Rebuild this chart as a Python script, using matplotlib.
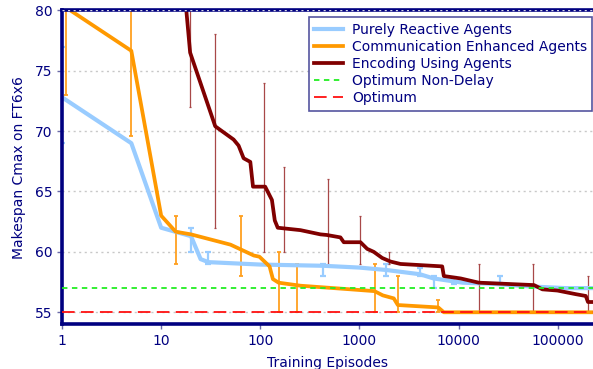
import matplotlib
matplotlib.use("Agg")
import matplotlib.pyplot as plt
import numpy as np

navy = "#000080"

# Purely Reactive Agents
reactive_x = [1, 5, 10, 20, 25, 30, 100, 430, 1000, 1870, 4070, 5600, 11000, 23000, 50000, 120000, 227000]
reactive_y = [72.8, 69.0, 62.0, 61.3, 59.4, 59.15, 58.95, 58.85, 58.7, 58.5, 58.15, 57.8, 57.45, 57.35, 57.15, 57.0, 57.0]
reactive_err_x = [1, 20, 30, 430, 1870, 4070, 5600, 9000, 26300]
reactive_err_lo = [69, 60, 59, 58, 58, 58, 57, 57.3, 57.4]
reactive_err_hi = [77, 62, 60, 59, 59, 58.7, 58, 57.9, 58.0]

# Communication Enhanced Agents
comm_x = [1.09, 5, 10, 14, 20, 50, 86, 98, 124, 134, 153, 254, 811, 1419, 1720, 2220, 2440, 6240, 7100, 227000]
comm_y = [80.25, 76.65, 63.0, 61.67, 61.45, 60.6, 59.7, 59.6, 58.8, 57.75, 57.45, 57.2, 56.9, 56.75, 56.4, 56.15, 55.6, 55.4, 55.0, 55.0]
comm_err_x = [1.09, 5, 14, 64, 153, 235, 1419, 2440, 6240]
comm_err_lo = [73, 69.6, 59, 58, 55, 55, 55, 55, 55]
comm_err_hi = [80, 80, 63, 63, 60, 59, 59, 58, 56]

# Encoding Using Agents
enc_x = [17.8, 19.6, 35.1, 53.8, 60.4, 67.9, 79.3, 84.4, 112, 131, 140, 150, 254, 404, 468, 643, 695,
         1024, 1197, 1396, 1694, 2057, 2594, 6840, 7100, 10500, 16000, 57700, 70000, 99300, 152000,
         192000, 202000, 227000]
enc_y = [80.3, 76.5, 70.4, 69.3, 68.8, 67.75, 67.45, 65.4, 65.4, 64.3, 62.6, 62.0, 61.8, 61.45, 61.4, 61.2, 60.8,
         60.8, 60.25, 60.0, 59.5, 59.2, 59.0, 58.8, 58.0, 57.8, 57.45, 57.25, 56.9, 56.8, 56.5,
         56.35, 55.85, 55.85]
enc_err_x = [19.6, 35.1, 108, 175, 478, 1024, 1977, 16200, 56800, 202000]
enc_err_lo = [72, 62, 60, 60, 59, 59, 59, 55, 55, 55]
enc_err_hi = [80.5, 78, 74, 67, 66, 63, 60, 59, 59, 58]

opt_nondelay = 57
opt = 55


def err_bars(ax, xs, lo, hi, color, lw, capsize):
    lo = np.array(lo)
    hi = np.array(hi)
    ax.errorbar(xs, (lo + hi) / 2, yerr=(hi - lo) / 2, fmt="none", ecolor=color,
                elinewidth=lw, capsize=capsize, capthick=lw, zorder=2.2)


fig = plt.figure(figsize=(5.93, 3.69), dpi=100)
ax = fig.add_axes([0.1046, 0.121, 0.8954, 0.851])

ax.axhline(opt_nondelay, color="#22ee22", lw=1.3, ls=(0, (3, 2.5)), label="Optimum Non-Delay", zorder=2.6)
ax.axhline(opt, color="#ff1010", lw=1.3, ls=(0, (7, 3.5)), label="Optimum", zorder=2.6)

err_bars(ax, reactive_err_x, reactive_err_lo, reactive_err_hi, "#99ccff", 1.6, 2.5)
err_bars(ax, comm_err_x, comm_err_lo, comm_err_hi, "#ffa020", 1.3, 1.5)
err_bars(ax, enc_err_x, enc_err_lo, enc_err_hi, "#a84848", 0.9, 0.8)

ax.plot(reactive_x, reactive_y, color="#99ccff", lw=3, label="Purely Reactive Agents", zorder=2.3)
ax.plot(comm_x, comm_y, color="#ff9900", lw=2.7, label="Communication Enhanced Agents", zorder=2.4)
ax.plot(enc_x, enc_y, color="#800000", lw=2.7, label="Encoding Using Agents", zorder=2.5)

ax.set_xscale("log")
ax.set_xlim(1, 227000)
ax.set_ylim(54, 80)
ax.set_yticks([55, 60, 65, 70, 75, 80])
ax.set_xticks([1, 10, 100, 1000, 10000, 100000])
ax.set_xticklabels(["1", "10", "100", "1000", "10000", "100000"])
ax.minorticks_off()
ax.tick_params(colors="#6a6aa8", labelcolor=navy, labelsize=10, length=3.5, width=1)

ax.grid(axis="y", color="#c8c8c8", ls=(0, (1.5, 2.5)), lw=1)
ax.axhline(80, color="#d8d8e8", ls=(0, (1.5, 2.5)), lw=1, zorder=3)

for side in ["left", "bottom"]:
    ax.spines[side].set_color(navy)
    ax.spines[side].set_linewidth(2.6)
ax.spines["top"].set_color(navy)
ax.spines["top"].set_linewidth(2.6)
ax.spines["right"].set_visible(False)

ax.set_xlabel("Training Episodes", color=navy, fontsize=10, labelpad=6)
ax.set_ylabel("Makespan Cmax on FT6x6", color=navy, fontsize=10, labelpad=6)

handles, labels = ax.get_legend_handles_labels()
order = [2, 3, 4, 0, 1]
leg = ax.legend([handles[i] for i in order], [labels[i] for i in order],
                loc="upper right", bbox_to_anchor=(0.999, 0.978), borderaxespad=0,
                fontsize=10, handlelength=2.1, labelspacing=0.22, fancybox=False,
                framealpha=1, edgecolor="#5555a0", borderpad=0.4, handletextpad=0.6)
leg.get_frame().set_linewidth(1.2)
for t in leg.get_texts():
    t.set_color(navy)

fig.savefig("out.png", dpi=100)
